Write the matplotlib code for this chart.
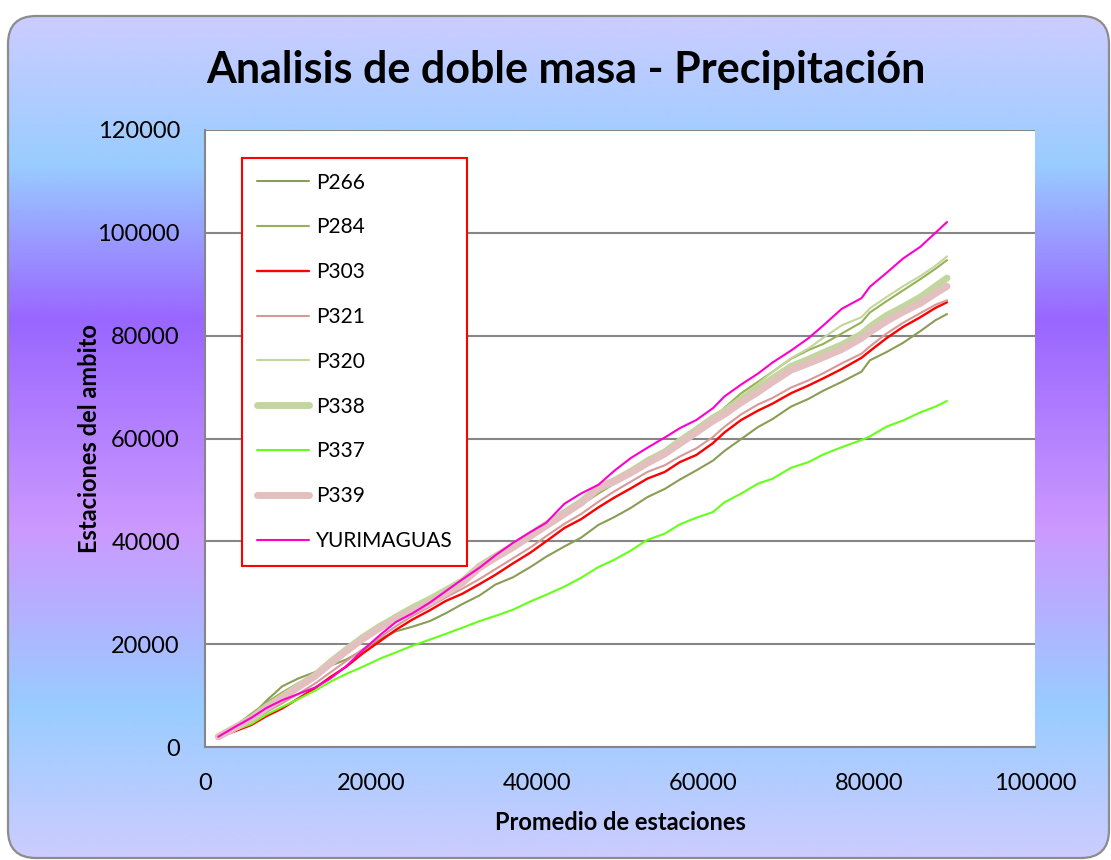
import numpy as np
import matplotlib
matplotlib.use("Agg")
import matplotlib.pyplot as plt
from matplotlib.colors import LinearSegmentedColormap
from matplotlib.patches import FancyBboxPatch

plt.rcParams['font.family'] = ['Lato', 'DejaVu Sans']

# promedio de estaciones (acumulado)
promedio = [1600, 3500, 5600, 7400, 9300, 11200, 13300, 15100, 17000, 19000,
            21100, 23000, 25000, 27100, 29000, 31000, 33100, 35000, 37100, 39200,
            41100, 43300, 45300, 47400, 49300, 51300, 53300, 55400, 57200, 59200,
            61200, 62600, 64600, 66600, 68400, 70600, 72700, 74500, 76700, 79100,
            80100, 82100, 84100, 86200, 88000, 89400]

p266 = [2000, 3800, 6000, 9000, 11800, 13300, 14600, 15800, 17000, 18800,
        21000, 22500, 23400, 24500, 26000, 27800, 29500, 31600, 33000, 35000,
        37000, 39000, 40700, 43200, 44700, 46500, 48600, 50200, 52000, 53800,
        55700, 57600, 59900, 62200, 63800, 66200, 67700, 69300, 71000, 73000,
        75200, 76800, 78600, 80900, 83000, 84200]
p284 = [2000, 3900, 6500, 8600, 10600, 12400, 14000, 16200, 18500, 20900,
        23000, 25000, 26800, 28700, 30500, 32400, 34600, 36800, 39000, 41200,
        43000, 45200, 47100, 49300, 51200, 53500, 55800, 57000, 58500, 60700,
        63300, 66000, 68800, 71000, 73000, 75500, 77200, 78400, 80400, 82600,
        84500, 86700, 88800, 91000, 93000, 94700]
p303 = [1900, 3000, 4300, 6000, 7500, 9400, 11500, 13600, 15600, 18200,
        20600, 22800, 24800, 26600, 28400, 29800, 31700, 33500, 35700, 37800,
        40000, 42600, 44300, 46600, 48500, 50300, 52200, 53500, 55400, 56800,
        59100, 61200, 63600, 65400, 66800, 68800, 70300, 71700, 73500, 75700,
        77000, 79500, 81700, 83600, 85400, 86500]
p321 = [2000, 3300, 5000, 6800, 8500, 10300, 12400, 14500, 16700, 19000,
        21300, 23500, 25500, 27300, 29100, 30800, 32700, 34600, 36700, 38800,
        41000, 43400, 45300, 47700, 49700, 51600, 53500, 54800, 56500, 58100,
        60300, 62300, 64700, 66600, 67900, 69900, 71300, 72700, 74600, 76500,
        77900, 80400, 82500, 84400, 86000, 86900]
p320 = [2000, 3700, 6000, 8200, 10300, 12200, 14200, 16500, 18900, 21400,
        23700, 25800, 27600, 29300, 31000, 32800, 35000, 37200, 39500, 41600,
        43300, 45500, 47400, 49700, 51500, 53900, 56200, 57600, 59200, 61200,
        63600, 65800, 68200, 70600, 73000, 75600, 77500, 79600, 82000, 83600,
        85300, 87500, 89600, 91600, 93600, 95400]
p338 = [2000, 3700, 5600, 7800, 9700, 11800, 14000, 16500, 18900, 21300,
        23500, 25200, 26900, 28400, 30200, 32200, 35200, 37100, 39100, 41300,
        43300, 45600, 47700, 50500, 51800, 53600, 55600, 57400, 59500, 61700,
        64000, 65300, 67600, 69600, 71700, 74000, 75400, 76700, 78200, 80300,
        81700, 83900, 85600, 87500, 89600, 91200]
p337 = [1900, 3200, 4500, 6300, 7800, 9300, 11000, 12700, 14200, 15600,
        17200, 18400, 19700, 20900, 22000, 23200, 24500, 25500, 26700, 28300,
        29600, 31200, 32900, 35000, 36400, 38200, 40300, 41500, 43300, 44600,
        45700, 47600, 49300, 51200, 52200, 54300, 55400, 56900, 58300, 59700,
        60400, 62300, 63500, 65100, 66200, 67300]
p339 = [2000, 3600, 5500, 7600, 9500, 11600, 13800, 16200, 18600, 21000,
        23200, 24900, 26500, 28000, 29900, 31900, 34900, 36800, 38800, 41000,
        43000, 45300, 47400, 50300, 51600, 53300, 55200, 57000, 59000, 61200,
        63400, 64700, 67000, 69000, 71000, 73300, 74600, 75800, 77300, 79500,
        80700, 82800, 84600, 86300, 88200, 89600]
yurimaguas = [2000, 3800, 5700, 7600, 9100, 10300, 11600, 13300, 15700, 18800,
              21800, 24300, 26000, 28100, 30300, 32600, 34900, 37300, 39700, 41800,
              43600, 47300, 49300, 51000, 53700, 56200, 58200, 60200, 62000, 63600,
              65900, 68200, 70500, 72600, 74800, 77100, 79500, 82000, 85200, 87300,
              89500, 92200, 95000, 97300, 100000, 102100]

series = [
    ('P266', p266, '#8a9d55', 1.5),
    ('P284', p284, '#97b156', 1.5),
    ('P303', p303, '#ff0000', 1.7),
    ('P321', p321, '#d69a98', 1.5),
    ('P320', p320, '#c3d69b', 1.5),
    ('P338', p338, '#c4d6a0', 5.0),
    ('P337', p337, '#66ff1a', 1.5),
    ('P339', p339, '#e3c0bf', 5.0),
    ('YURIMAGUAS', yurimaguas, '#ff00cc', 1.5),
]

W, H = 1111, 860
fig = plt.figure(figsize=(W / 100, H / 100), dpi=100)
fig.patch.set_facecolor('white')

# fondo degradado con esquinas redondeadas
bg = fig.add_axes([0, 0, 1, 1], zorder=-10)
bg.set_xlim(0, W)
bg.set_ylim(H, 0)
bg.axis('off')
cmap_bg = LinearSegmentedColormap.from_list('calm', [
    (0.0, '#ccccff'), (0.175, '#99ccff'), (0.36, '#9966ff'),
    (0.61, '#cc99ff'), (0.82, '#99ccff'), (1.0, '#ccccff')])
x0, y0, x1, y1 = 8, 16, 1109, 858
grad = np.linspace(0, 1, 512).reshape(-1, 1)
im = bg.imshow(grad, cmap=cmap_bg, aspect='auto', extent=(x0, x1, y1, y0), interpolation='bilinear')
box = FancyBboxPatch((x0, y0), x1 - x0, y1 - y0, boxstyle='round,pad=0,rounding_size=28',
                     facecolor='none', edgecolor='#8c8c8c', linewidth=1.6)
bg.add_patch(box)
im.set_clip_path(box)

L, R, T, B = 205, 1035, 130, 747
ax = fig.add_axes([L / W, (H - B) / H, (R - L) / W, (B - T) / H])
ax.set_facecolor('white')

for name, vals, color, lw in series:
    ax.plot(promedio, vals, color=color, linewidth=lw, label=name,
            solid_capstyle='round', solid_joinstyle='round')

ax.set_xlim(0, 100000)
ax.set_ylim(0, 120000)
ax.set_xticks(np.arange(0, 100001, 20000))
ax.set_yticks(np.arange(0, 120001, 20000))
ax.yaxis.grid(True, color='#868686', linewidth=1.5)
ax.set_axisbelow(True)
for s in ['top', 'right']:
    ax.spines[s].set_visible(False)
for s in ['left', 'bottom']:
    ax.spines[s].set_color('#868686')
    ax.spines[s].set_linewidth(1.5)
ax.tick_params(axis='both', length=0, labelsize=17, colors='black')
ax.tick_params(axis='y', pad=18)
ax.tick_params(axis='x', pad=19)

ax.set_xlabel('Promedio de estaciones', fontsize=17, fontweight='bold', labelpad=12)
ax.set_ylabel('Estaciones del ambito', fontsize=17, fontweight='bold')
ax.yaxis.set_label_coords(-0.125, 0.5)

fig.text(0.5095, 1 - 70 / H, 'Analisis de doble masa - Precipitación', ha='center', va='center',
         fontsize=31, fontweight='bold')

leg = ax.legend(loc='upper left', bbox_to_anchor=((242 - L) / (R - L), (B - 158) / (B - T)),
                borderaxespad=0, fontsize=15, frameon=True, fancybox=False,
                handlelength=2.5, handletextpad=0.35, labelspacing=1.19, borderpad=0.7)
leg.get_frame().set_edgecolor('#ff0000')
leg.get_frame().set_linewidth(1.5)
leg.get_frame().set_facecolor('white')
leg.get_frame().set_alpha(1)

fig.savefig('out.png', dpi=100)
